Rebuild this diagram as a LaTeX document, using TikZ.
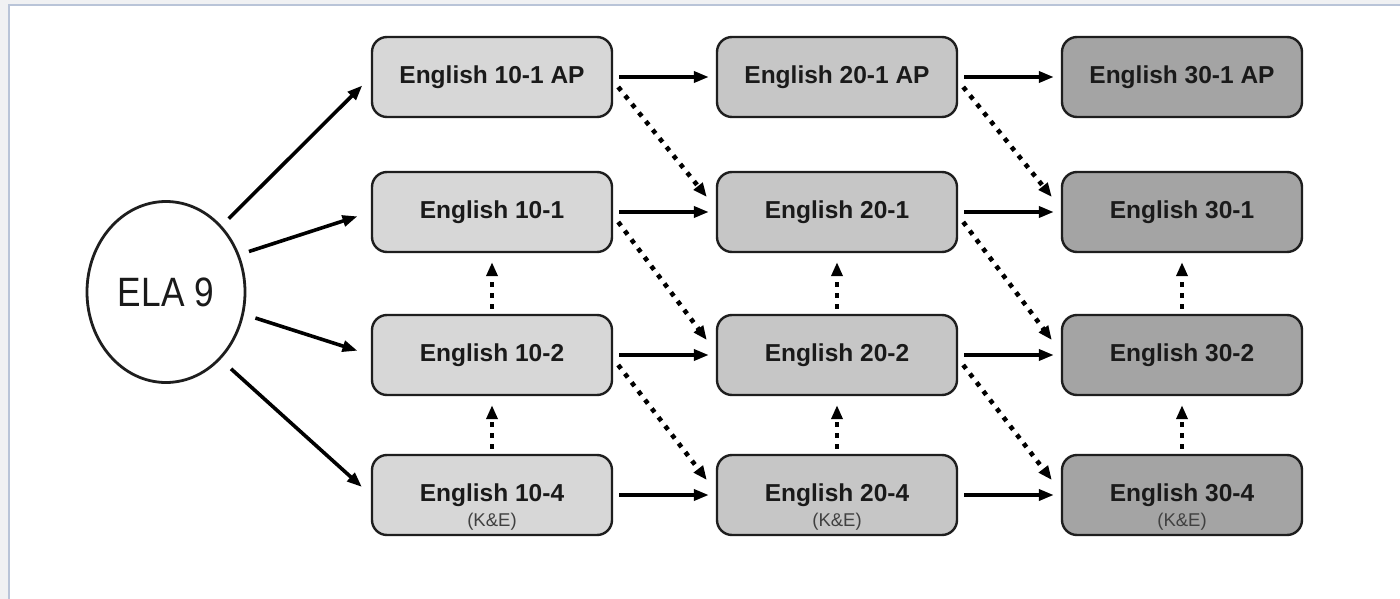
\documentclass[tikz,border=0pt]{standalone}
\usepackage{fontspec}
\setmainfont{Liberation Sans}
\usetikzlibrary{arrows.meta,calc,shapes.geometric}
\definecolor{cone}{HTML}{D7D7D7}
\definecolor{ctwo}{HTML}{C6C6C6}
\definecolor{cthree}{HTML}{A4A4A4}
\definecolor{edgecol}{HTML}{1E1E1E}
\definecolor{textcol}{HTML}{1A1A1A}
\definecolor{outercol}{HTML}{F0F1F3}
\definecolor{framecol}{HTML}{B9C4D8}
\begin{document}
\begin{tikzpicture}[x=1pt,y=-1pt,
  course/.style={draw=edgecol, line width=2.4pt, rounded corners=15pt,
    minimum width=240pt, minimum height=80pt, inner sep=0pt, text=textcol,
    font=\bfseries\fontsize{24.5}{26}\selectfont},
  lvlone/.style={course, fill=cone},
  lvltwo/.style={course, fill=ctwo},
  lvlthree/.style={course, fill=cthree},
  ke/.style={label={[inner sep=0pt, label distance=-23pt,
    font=\mdseries\fontsize{18.5}{18.5}\selectfont, text=black!75]below:(K\&E)}},
  solidarrow/.style={line width=3.6pt, -{Triangle[length=15pt,width=11pt]}},
  dotarrow/.style={line width=4.6pt, dash pattern=on 4.6pt off 6.4pt,
    -{Triangle[length=14pt,width=11pt]}},
  diag/.style={dotarrow},
  vert/.style={dotarrow, shorten <=5pt, shorten >=9pt},
  horiz/.style={solidarrow, shorten <=6pt, shorten >=7pt}
]
\useasboundingbox (0,0) rectangle (1400,599);
\fill[outercol] (0,0) rectangle (1400,599);
\filldraw[fill=white, draw=framecol, line width=1.5pt] (9,5) rectangle (1403,603);

% ELA 9
\node[ellipse, draw=edgecol, line width=2.8pt, fill=white, minimum width=158pt,
  minimum height=181pt, inner sep=0pt, text=textcol] (ela) at (166,292)
  {\fontsize{41}{41}\selectfont\scalebox{0.86}[1]{ELA 9}};

% column 10
\node[lvlone] (a1) at (492,77) {English 10-1 AP};
\node[lvlone] (a2) at (492,212) {English 10-1};
\node[lvlone] (a3) at (492,355) {English 10-2};
\node[lvlone, ke] (a4) at (492,495) {English 10-4};
% column 20
\node[lvltwo] (b1) at (837,77) {English 20-1 AP};
\node[lvltwo] (b2) at (837,212) {English 20-1};
\node[lvltwo] (b3) at (837,355) {English 20-2};
\node[lvltwo, ke] (b4) at (837,495) {English 20-4};
% column 30
\node[lvlthree] (c1) at (1182,77) {English 30-1 AP};
\node[lvlthree] (c2) at (1182,212) {English 30-1};
\node[lvlthree] (c3) at (1182,355) {English 30-2};
\node[lvlthree, ke] (c4) at (1182,495) {English 30-4};

% from ELA 9
\draw[solidarrow, shorten <=10pt, shorten >=12pt] (ela.50) -- (a1.west);
\draw[solidarrow, shorten <=10pt, shorten >=14pt] (ela.27) -- (a2.west);
\draw[solidarrow, shorten <=12pt, shorten >=14pt] (ela.-16) -- (a3.west);
\draw[solidarrow, shorten <=14pt, shorten >=12pt] (ela.-51) -- (a4.west);

% horizontal arrows
\foreach \s/\t in {a1/b1,a2/b2,a3/b3,a4/b4,b1/c1,b2/c2,b3/c3,b4/c4}
  \draw[horiz] (\s.east) -- (\t.west);

% diagonal dotted arrows
\foreach \s/\t in {a1/b2,a2/b3,a3/b4,b1/c2,b2/c3,b3/c4}
  \draw[diag] ($(\s.east)+(5,10)$) -- ($(\t.west)+(-9,-15)$);

% vertical dotted arrows
\foreach \s/\t in {a4/a3,a3/a2,b4/b3,b3/b2,c4/c3,c3/c2}
  \draw[vert] (\s.north) -- (\t.south);
\end{tikzpicture}
\end{document}
